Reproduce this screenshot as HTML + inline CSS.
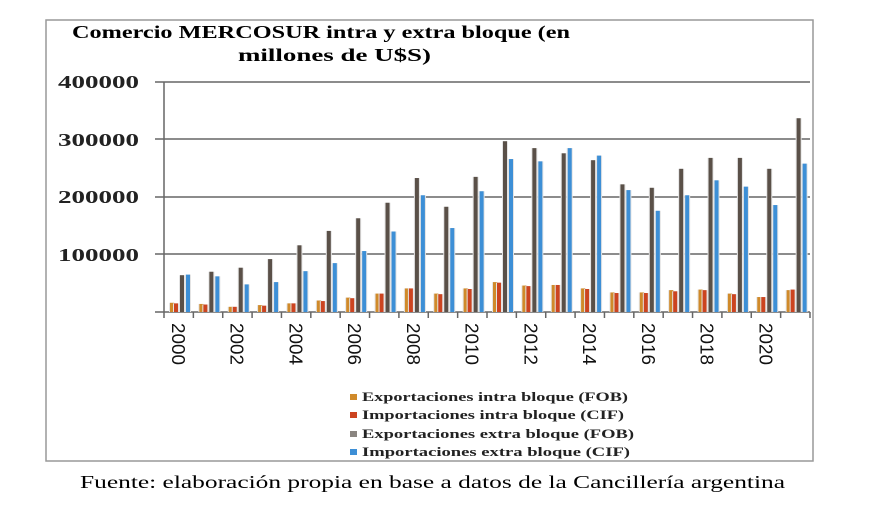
<!DOCTYPE html>
<html><head><meta charset="utf-8"><style>
html,body{margin:0;padding:0;background:#fff;}
svg{display:block;}
</style></head><body>
<svg id="s" width="880" height="512" xmlns="http://www.w3.org/2000/svg" font-family="'Liberation Serif',serif">
<rect x="0" y="0" width="880" height="512" fill="#fff"/>
<rect x="46" y="20" width="767" height="441" fill="none" stroke="#999" stroke-width="1.5"/>
<text x="72" y="38" font-size="18" font-weight="bold" textLength="498" lengthAdjust="spacingAndGlyphs">Comercio MERCOSUR intra y extra bloque (en</text>
<text x="238" y="61" font-size="18" font-weight="bold" textLength="193" lengthAdjust="spacingAndGlyphs">millones de U$S)</text>
<g font-size="18" font-weight="bold" fill="#222">
<text x="58" y="88" textLength="81" lengthAdjust="spacingAndGlyphs">400000</text>
<text x="58" y="146" textLength="81" lengthAdjust="spacingAndGlyphs">300000</text>
<text x="58" y="203" textLength="81" lengthAdjust="spacingAndGlyphs">200000</text>
<text x="58" y="261" textLength="81" lengthAdjust="spacingAndGlyphs">100000</text>
</g>
<g stroke="#666" stroke-width="1.5">
<line x1="155" y1="82" x2="810" y2="82"/>
<line x1="155" y1="139" x2="810" y2="139"/>
<line x1="155" y1="197" x2="810" y2="197"/>
<line x1="155" y1="254" x2="810" y2="254"/>
<line x1="155" y1="312" x2="810" y2="312"/>
<line x1="164" y1="82" x2="164" y2="318"/>
</g>
<g id="bars"></g>
<g id="xl" font-family="'Liberation Sans',sans-serif" font-size="18" fill="#111"></g>
<g font-size="13" font-weight="bold" fill="#222">
<rect x="350" y="394" width="7" height="6" fill="#d08a2a"/>
<text x="362" y="401" textLength="266" lengthAdjust="spacingAndGlyphs">Exportaciones intra bloque (FOB)</text>
<rect x="350" y="412" width="7" height="6" fill="#cc4420"/>
<text x="362" y="419" textLength="262" lengthAdjust="spacingAndGlyphs">Importaciones intra bloque (CIF)</text>
<rect x="350" y="431" width="7" height="6" fill="#8a8580"/>
<text x="362" y="438" textLength="272" lengthAdjust="spacingAndGlyphs">Exportaciones extra bloque (FOB)</text>
<rect x="350" y="449" width="7" height="6" fill="#3d8fd6"/>
<text x="362" y="456" textLength="268" lengthAdjust="spacingAndGlyphs">Importaciones extra bloque (CIF)</text>
</g>
<text x="80" y="488" font-size="18" textLength="705" lengthAdjust="spacingAndGlyphs">Fuente: elaboración propia en base a datos de la Cancillería argentina</text>
</svg>
<script>
var a=[16,14,9,12,15,20,25,32,41,32,41,52,46,47,41,34,34,38,39,32,26,38];
var b=[15,13,9,11,15,19,24,32,41,31,40,51,45,47,40,33,33,36,38,31,26,39];
var c=[64,70,77,92,116,141,163,190,233,183,235,297,285,276,264,222,216,249,268,268,249,337];
var d=[65,62,48,52,71,85,106,140,203,146,210,266,262,285,272,212,176,203,229,218,186,258];
var g=document.getElementById('bars'),xl=document.getElementById('xl'),h='',t='';
var w=(810-164)/22;
function bar(x,v,col){var y=312-v*0.575;return '<rect x="'+(x-1)+'" y="'+y+'" width="6" height="'+(312-y)+'" fill="#e4e4e4"/><rect x="'+x+'" y="'+y+'" width="4" height="'+(312-y)+'" fill="'+col+'"/>';}
for(var i=0;i<22;i++){var x0=164+i*w;
h+=bar(x0+6,a[i],'#d08a2a')+bar(x0+10,b[i],'#cc4420')+bar(x0+16,c[i],'#5a5048')+bar(x0+22,d[i],'#3d8fd6');
h+='<line x1="'+(x0+w)+'" y1="312" x2="'+(x0+w)+'" y2="318" stroke="#666" stroke-width="1.5"/>';
if(i%2==0){t+='<text transform="translate('+(x0+8)+',323) rotate(90)" font-size="18" textLength="42" lengthAdjust="spacingAndGlyphs">'+(2000+i)+'</text>';}
}
g.innerHTML=h;xl.innerHTML=t;
</script>
</body></html>
